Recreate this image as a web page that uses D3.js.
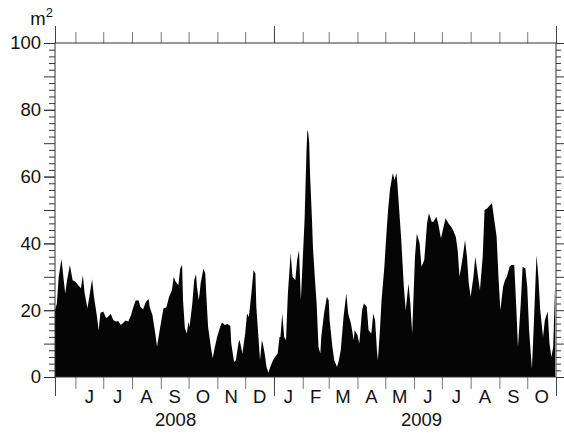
<!DOCTYPE html>
<html><head><meta charset="utf-8">
<script src="https://cdn.jsdelivr.net/npm/d3@7"></script>
<style>body{margin:0;background:#fff}svg{display:block}</style>
</head><body>
<svg id="c" width="564" height="433"></svg>
<script>
// ---- data ----
const startDate = "2008-05-10";
const endDate = "2009-11-01";
// days since startDate
const dayOffsets = [0,2,4,7,9,11,13,16,19,22,25,28,30,32,35,37,40,42,45,47,49,52,55,57,60,63,66,68,71,74,76,79,82,84,87,90,92,95,98,101,102,105,108,110,112,115,117,120,123,126,128,130,133,135,137,138,140,142,144,145,148,150,152,153,155,157,160,162,163,165,168,170,172,175,178,180,183,186,189,190,193,195,198,199,202,205,207,209,212,214,216,217,219,221,223,224,226,228,230,232,235,237,240,242,243,245,247,249,251,254,256,259,261,263,265,267,269,271,272,273,274,275,277,278,280,282,284,286,287,290,293,295,296,299,301,304,306,308,311,314,316,319,322,323,326,328,331,333,336,338,341,343,345,347,348,350,352,355,357,359,361,364,366,368,369,371,373,375,376,378,381,383,385,388,390,393,395,398,401,403,406,408,411,413,416,418,421,424,427,429,432,434,436,439,442,444,446,448,451,453,456,458,461,463,466,469,471,473,476,478,480,483,485,487,490,492,495,497,499,502,504,507,509,511,514,516,519,521,523,526,528,531,533,535,537,539];
// area in m²
const areaValues = [20,22,30,35.3,30,25,29,33.5,29,28.5,27.5,26.6,30.5,25,20.6,24,29.3,24,18.6,14,19.2,19.6,17.7,18,18.9,17,16.6,16.8,15.6,16.3,16.9,16.6,18.6,20.6,22.9,23,21,20.3,22.5,23.3,21,18.6,13.2,9.1,12.6,17.6,20.6,20.8,24,26,30,28.5,27.5,32.5,33.5,23,14.6,13,16.6,15,22,29,30.8,27,23,28,32.5,31,25,15,9,5.6,8.6,12.3,15,16.3,15.6,15.9,15.3,10,4.5,5,10.6,11,7,13,19,18,26,32,31,21,13,5,11,10,7,3,1.3,3,5,5.9,7,12,12,19,12,11,25,37,30,29,35,38,23,35,47,67,74,73,70,60,47,39,30,22,9,7,12,19,24,23,17,9,5,3,5,8,18,25,19,16,11,14,12.6,10,20,22,21,14,13,19,17,8,5,13,23,33,42,50,56,61,59,61,58,50,42,32,27,20,28,22,13,36,43,40,33,35,46,49,46.5,46.5,48,46,41.5,44,47.5,46,45,44,42,38,30,35,41,36,28,24,30,36,30,26,36,50,50.5,51.5,52,48,42,30,20,27,29,30,33,33.5,33.5,22,9,22,33,32.5,27,14,2.5,15,36.5,30,20,12,17,19.6,10,6,9,27];
const monthLabels = ["J","J","A","S","O","N","D","J","F","M","A","M","J","J","A","S","O"];
const yearLabels = ["2008","2009"];
const yearLabelDates = ["2008-09-17","2009-06-09"];
const yearBoundaries = ["2008-05-10","2009-01-01","2009-11-01"];
const yLabelTicks = [0,20,40,60,80,100];
const yUnit = "m";
const yUnitSup = "2";

// ---- layout ----
const W = 564, H = 433;
const m = {left:55, right:8, top:43, bottom:56};
const svg = d3.select("#c");
const parse = d3.utcParse("%Y-%m-%d");
const t0 = parse(startDate), t1 = parse(endDate);
const x = d3.scaleUtc().domain([t0, t1]).range([m.left, W - m.right]);
const y = d3.scaleLinear().domain([0, 100]).range([H - m.bottom, m.top]);
const font = "'Liberation Sans', Arial, Helvetica, sans-serif";
const fs = 18.5;

const data = dayOffsets.map((d, i) => ({date: d3.utcDay.offset(t0, d), v: areaValues[i]}));

// area
svg.append("path")
  .datum(data)
  .attr("fill", "#050505")
  .attr("d", d3.area().x(d => x(d.date)).y0(y(0)).y1(d => y(d.v)));

const monthStarts = d3.utcMonth.range(d3.utcMonth.ceil(t0), t1);
const yearTicks = yearBoundaries.map(parse);

function styleAxis(g, col) {
  g.select(".domain").remove();
  g.selectAll(".tick line").attr("stroke", col);
}

// bottom month ticks
svg.append("g").attr("transform", `translate(0,${y(0)})`)
  .call(d3.axisBottom(x).tickValues(monthStarts).tickSize(12).tickFormat(""))
  .call(g => styleAxis(g, "#777"));
svg.append("g").attr("transform", `translate(0,${y(0)})`)
  .call(d3.axisBottom(x).tickValues(yearTicks).tickSize(19).tickFormat(""))
  .call(g => styleAxis(g, "#444"));
// top month ticks
svg.append("g").attr("transform", `translate(0,${y(100)})`)
  .call(d3.axisTop(x).tickValues(monthStarts).tickSize(11).tickFormat(""))
  .call(g => styleAxis(g, "#777"));
svg.append("g").attr("transform", `translate(0,${y(100)})`)
  .call(d3.axisTop(x).tickValues(yearTicks).tickSize(17).tickFormat(""))
  .call(g => styleAxis(g, "#444"));

// left ticks
const minorVals = d3.range(0, 101, 2).filter(v => v % 10 !== 0);
const tenVals = d3.range(0, 101, 10);
svg.append("g").attr("transform", `translate(${m.left},0)`)
  .call(d3.axisLeft(y).tickValues(minorVals).tickSize(6).tickFormat(""))
  .call(g => styleAxis(g, "#333"));
svg.append("g").attr("transform", `translate(${m.left},0)`)
  .call(d3.axisLeft(y).tickValues(tenVals).tickSize(11).tickFormat(""))
  .call(g => styleAxis(g, "#333"));
svg.append("g").attr("transform", `translate(${m.left},0)`)
  .call(d3.axisLeft(y).tickValues(yLabelTicks).tickSize(11).tickPadding(3).tickFormat(d3.format("d")))
  .call(g => { styleAxis(g, "#333"); g.selectAll("text").attr("font-family", font).attr("font-size", fs).attr("fill", "#111"); });
// right ticks
svg.append("g").attr("transform", `translate(${W - m.right},0)`)
  .call(d3.axisRight(y).tickValues(minorVals).tickSize(5).tickFormat(""))
  .call(g => styleAxis(g, "#333"));
svg.append("g").attr("transform", `translate(${W - m.right},0)`)
  .call(d3.axisRight(y).tickValues(tenVals).tickSize(8).tickFormat(""))
  .call(g => styleAxis(g, "#333"));

// frame
svg.append("rect")
  .attr("x", m.left).attr("y", m.top)
  .attr("width", W - m.right - m.left).attr("height", y(0) - m.top)
  .attr("fill", "none").attr("stroke", "#333").attr("stroke-width", 1);

// month labels
const monthMids = monthStarts.map(d => new Date((+d + +d3.utcMonth.offset(d, 1)) / 2));
svg.append("g").selectAll("text").data(monthLabels).join("text")
  .attr("x", (d, i) => x(monthMids[i]))
  .attr("y", 403)
  .attr("text-anchor", "middle")
  .attr("font-family", font).attr("font-size", fs).attr("fill", "#111")
  .text(d => d);

// year labels
svg.append("g").selectAll("text").data(yearLabels).join("text")
  .attr("x", (d, i) => x(parse(yearLabelDates[i])))
  .attr("y", 426)
  .attr("text-anchor", "middle")
  .attr("font-family", font).attr("font-size", fs).attr("fill", "#111")
  .text(d => d);

// unit
const u = svg.append("text")
  .attr("x", 53).attr("y", 25)
  .attr("text-anchor", "end")
  .attr("font-family", font).attr("font-size", fs).attr("fill", "#111");
u.append("tspan").text(yUnit);
u.append("tspan").attr("dy", -8).attr("font-size", 13).text(yUnitSup);
</script>
</body></html>
